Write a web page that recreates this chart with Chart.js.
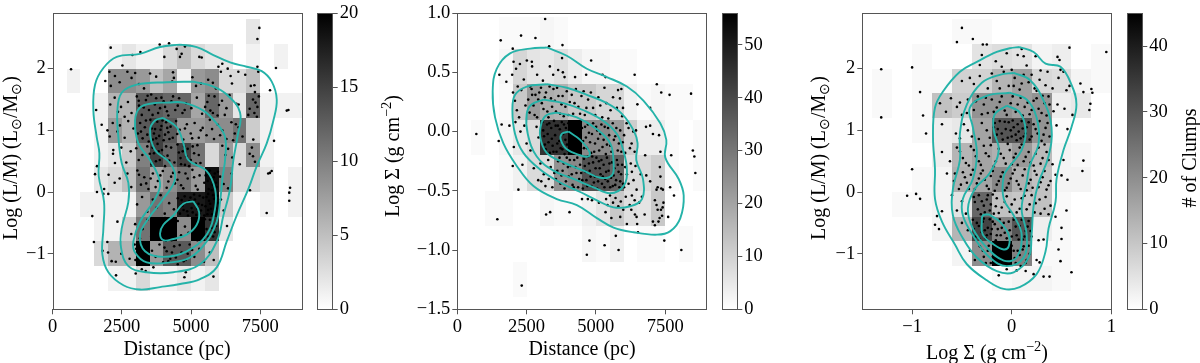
<!DOCTYPE html>
<html>
<head>
<meta charset="utf-8">
<title>Clump histograms</title>
<script src="https://cdn.jsdelivr.net/npm/chart.js@4/dist/chart.umd.min.js"></script>
<style>
html, body { margin: 0; padding: 0; background: #fff; }
#page { position: relative; width: 1200px; height: 363px; overflow: hidden; }
canvas { position: absolute; top: 0; }
</style>
</head>
<body>
<div id="page">
<canvas id="hist1" style="left:0px" width="310" height="363"></canvas>
<canvas id="bar1" style="left:310px" width="60" height="363"></canvas>
<canvas id="hist2" style="left:375px" width="340" height="363"></canvas>
<canvas id="bar2" style="left:715px" width="70" height="363"></canvas>
<canvas id="hist3" style="left:795px" width="325" height="363"></canvas>
<canvas id="bar3" style="left:1120px" width="80" height="363"></canvas>
</div>
<script>
// Bin edges and tick labels
const distEdges = [0, 500, 1000, 1500, 2000, 2500, 3000, 3500, 4000, 4500, 5000, 5500, 6000, 6500, 7000, 7500, 8000, 8500, 9000];
const lmEdges = [2.8, 2.4, 2.0, 1.6, 1.2, 0.8, 0.4, 0, -0.4, -0.8, -1.2, -1.6];
const sigmaRowEdges = [0.97, 0.7, 0.4, 0.1, -0.2, -0.5, -0.8, -1.1, -1.4];
const sigmaColEdges = [-1.4, -1.2, -1.0, -0.8, -0.6, -0.4, -0.2, 0, 0.2, 0.4, 0.6, 0.8, 1.0];
const distTicks = [0, 2500, 5000, 7500];
const lmTicks = [-1, 0, 1, 2];
const sigmaTicks = [-1.5, -1.0, -0.5, 0.0, 0.5, 1.0];
const sigmaLogTicks = [-1, 0, 1];
const barTicks1 = [0, 5, 10, 15, 20];
const barTicks2 = [0, 10, 20, 30, 40, 50];
const barTicks3 = [0, 10, 20, 30, 40];

// Counts per cell, rows from top to bottom
const counts1 = [
  [0,0,0,0,0,0,0,0,0,0,0,0,0,0,2,0,0,0],
  [0,0,0,0,1,2,1,1,3,5,3,2,2,0,1,0,1,0],
  [0,1,0,0,9,9,8,5,7,1,8,9,3,3,5,0,0,0],
  [0,0,0,1,6,6,13,13,12,12,7,12,8,2,12,1,1,1],
  [0,0,0,1,8,6,13,15,13,8,8,9,9,11,4,1,0,0],
  [0,0,0,1,2,4,10,15,12,15,11,3,8,3,9,1,0,0],
  [0,0,0,2,3,5,11,7,9,11,8,19,10,3,3,2,0,1],
  [0,0,1,1,1,1,8,11,10,18,18,19,4,1,0,1,0,1],
  [0,0,0,1,1,4,11,20,20,9,20,16,2,0,0,0,0,0],
  [0,0,0,3,6,6,20,8,13,13,9,5,0,0,0,0,0,0],
  [0,0,0,0,1,1,3,1,1,2,1,2,0,0,0,0,0,0]
];
const counts2 = [
  [0,0,0,1,1,1,2,1,0,0,0,0,0,0,0,0,0,0],
  [0,0,0,2,9,6,5,7,4,2,2,1,1,0,0,0,0,0],
  [0,0,0,1,12,22,18,17,12,12,9,9,3,1,2,1,1,0],
  [0,1,0,2,5,8,45,45,56,26,26,22,11,4,4,1,0,1],
  [0,0,0,1,3,8,8,24,26,38,38,34,8,8,11,1,0,1],
  [0,0,1,1,0,0,2,1,1,3,6,12,7,6,12,0,0,0],
  [0,0,0,0,0,0,0,0,0,2,1,3,0,1,1,0,1,0],
  [0,0,0,0,1,0,0,0,0,0,0,0,0,0,0,0,0,0]
];
const counts3 = [
  [0,0,0,0,1,1,0,0,0,0,0,0],
  [0,0,1,0,0,5,6,5,2,3,0,1],
  [1,0,1,1,8,8,13,17,7,6,2,1],
  [1,0,1,11,9,19,19,17,19,3,4,0],
  [0,0,1,3,4,16,30,30,19,1,0,0],
  [0,0,0,3,13,16,14,18,12,2,1,0],
  [0,0,1,2,14,16,21,14,11,2,2,0],
  [0,1,1,2,5,27,11,10,11,1,0,0],
  [0,0,0,2,13,33,22,30,3,1,0,0],
  [0,0,0,0,2,20,45,22,1,1,0,0],
  [0,0,0,0,0,0,1,2,2,1,0,0]
];

// Individual clumps: distance vs log L/M
const points1 = [
[663,1.99],[7470,2.66],[7400,2.48],[2096,2.34],[4205,2.41],[3867,2.39],[2880,2.22],[3170,2.27],[4036,2.19],[4600,2.19],[4660,2.24],[4780,2.36],[4480,2.32],[5300,2.19],[5385,2.18],[6130,2.08],[5990,2.03],[6325,2.0],[8070,2.01],[7400,2.03],[7855,1.65],[8460,1.32],[8520,1.33],[8580,.07],[8550,-.01],[8550,-.14],[7735,-.34],[7130,.03],[7915,.34],[7850,.31],[8000,.83],[7790,.3],[1430,-.39],[1490,-.81],[2340,-.48],[1975,-.81],[2000,-.98],[2290,-1.35],[3000,-1.32],[3220,-1.25],[3360,-1.28],[4810,-1.3],[4760,-1.38],[5810,-1.37],[3640,-1.22],[1570,1.33],[1530,.29],[1600,.42],[1600,0],[1830,-.03],[2010,-.03],[2250,.47],[2190,.68],[1770,1.09],[1980,1.0],
[1900,1.8],[2050,1.95],[2100,1.72],[2250,1.88],[2420,1.78],[2520,2.05],[2700,1.95],[2850,1.85],[2980,1.93],[3120,1.75],[3300,1.68],[3520,1.92],[3740,1.87],[4350,1.94],[4380,1.85],[4320,1.79],[5050,1.86],[5180,1.72],[5360,1.76],[5620,1.82],[5790,1.77],[5900,1.68],[6080,1.95],[6430,1.88],[6480,1.76],[6710,1.95],[6960,1.9],[7160,1.72],[7310,1.62],[7290,1.73],[7430,1.95],
[2080,1.42],[2240,1.53],[2360,1.3],[2470,1.38],[2600,1.22],[2720,1.46],[2850,1.28],[3040,1.55],[3120,1.4],[3220,1.25],[3370,1.49],[3480,1.33],[3560,1.58],[3690,1.42],[3810,1.28],[3930,1.53],[4060,1.38],[4180,1.24],[4290,1.47],[4430,1.33],[4570,1.52],[4690,1.28],[4820,1.44],[5010,1.36],[5210,1.53],[5400,1.27],[5590,1.46],[5700,1.32],[5850,1.55],[5960,1.24],[6120,1.48],[6280,1.36],[6390,1.57],[6640,1.43],[6720,1.42],[7070,1.25],[7120,1.35],[7240,1.5],[7290,1.28],[7330,1.45],[7400,1.38],[7450,1.55],[7380,1.22],
[2060,.9],[2170,1.12],[2340,.98],[2430,1.08],[2600,.88],[2730,1.15],[2920,1.03],[3080,.95],[3160,1.12],[3250,.87],[3330,1.05],[3420,.93],[3530,1.17],[3620,.85],[3700,1.02],[3780,1.14],[3850,.91],[3930,1.07],[4010,.84],[4100,1.13],[4180,.97],[4260,1.06],[4340,.88],[4460,1.15],[4590,1.01],[4720,.85],[4850,1.1],[4990,.95],[5130,1.12],[5280,.88],[5420,1.04],[5560,.92],[5680,1.17],[5830,.86],[5970,1.09],[6130,1.0],[6280,.86],[6460,1.13],[6580,.95],[6720,1.05],[6860,.9],[7250,.85],
[2180,.62],[2480,.72],[2660,.48],[2820,.66],[3020,.71],[3110,.52],[3240,.6],[3420,.74],[3580,.45],[3660,.63],[3790,.78],[3870,.52],[3950,.68],[4060,.42],[4150,.59],[4280,.72],[4400,.48],[4510,.77],[4620,.55],[4700,.66],[4780,.44],[4880,.7],[4990,.52],[5110,.63],[5230,.76],[5340,.47],[6130,.75],[6240,.6],[6340,.7],[6490,.56],[6760,.45],[7120,.62],[7240,.58],[7310,.49],[7200,.72],
[1860,.05],[2020,.28],[2240,.15],[2420,.22],[2700,.3],[2840,.08],[3060,.35],[3190,.12],[3310,.24],[3460,.05],[3620,.3],[3800,.18],[3980,.34],[4120,.07],[4280,.25],[4420,.14],[4570,.32],[4720,.06],[4880,.22],[5050,.36],[5170,.1],[5310,.27],[5480,.15],[5580,.34],[5640,.05],[5720,.22],[5790,.12],[5860,.3],[5930,.08],[6050,.25],[6180,.13],[6340,.06],[6470,.3],
[3050,-.2],[3230,-.08],[3420,-.32],[3620,-.12],[3760,-.25],[3900,-.05],[4050,-.35],[4210,-.18],[4380,-.28],[4520,-.1],[4600,-.35],[4690,-.22],[4770,-.07],[4860,-.31],[4930,-.15],[5020,-.26],[5110,-.04],[5190,-.37],[5270,-.19],[5360,-.3],[5440,-.09],[5520,-.23],[5590,-.36],[5650,-.14],[5720,-.27],[5800,-.05],[5870,-.33],[5940,-.18],[6080,-.12],[6180,-.3],
[2840,-.68],[2980,-.52],[3150,-.75],[3250,-.6],[3420,-.45],[3560,-.72],[3640,-.55],[3720,-.66],[3810,-.48],[3890,-.77],[3980,-.6],[4060,-.42],[4130,-.7],[4220,-.53],[4300,-.78],[4400,-.62],[4520,-.47],[4640,-.7],[4780,-.56],[4910,-.66],[5040,-.43],[5110,-.75],[5190,-.58],[5280,-.68],[5370,-.5],[5450,-.77],[5560,-.6],[5680,-.45],[5800,-.72],[5910,-.55],[6300,-.55],
[1800,-.95],[2130,-1.12],[2280,-1.13],[2480,-1.0],[2780,-1.08],[2960,-.85],[2990,-1.1],[3060,-1.18],[3150,-.92],[3240,-1.02],[3330,-.87],[3420,-1.12],[3590,-.95],[3720,-1.05],[3860,-.85],[3990,-1.14],[4120,-.96],[4250,-1.08],[4390,-.88],[4520,-1.17],[4660,-.98],[4810,-1.1],[4950,-.85],[5120,-1.05],[5300,-.92],[5470,-1.13],[5680,-.98],[5820,-1.1],
[3110,1.48],[3290,1.37],[3430,1.56],[3610,1.25],[3740,1.52],[3880,1.36],[4010,1.47],[4130,1.31],[4350,1.55],[4520,1.4],[4770,1.33],[5510,1.38],[5640,1.56],[5790,1.28],[6010,1.41],[6220,1.25],
[3190,.98],[3370,1.16],[3470,.82],[3580,1.03],[3660,.95],[3740,.87],[3900,1.01],[3970,1.16],[4060,.93],[4140,1.04],[4220,.86],[4500,.94],[4780,1.03],[5040,.87],[5350,1.0],[5760,1.02],[6050,.92],[6520,.84],[6620,1.1],
[3510,.62],[3610,.72],[3730,.5],[3830,.66],[4000,.57],[4100,.74],[4210,.51],[4560,.64],[4640,.45],[4750,.74],[4830,.58],[4930,.42],[5060,.74],[5170,.46],[5280,.6],
[3120,.28],[3380,.14],[3540,.22],[3720,.08],[3890,.27],[4180,.17],[4350,.31],[4510,.2],[4640,.11],[4800,.3],[5110,.24],[5240,.04],[5530,.27],[5600,.18],[5680,.35],[5750,.03],[5820,.24],[5900,.15],[5970,.33],
[4660,-.13],[4730,-.29],[4810,-.17],[4890,-.38],[4980,-.09],[5060,-.33],[5140,-.12],[5230,-.27],[5310,-.06],[5400,-.21],[5480,-.38],[5560,-.08],[5620,-.29],[5690,-.19],[5760,-.36],[5830,-.11],[5900,-.26],[5960,-.06],[5620,-.03],[5310,-.35],
[3600,-.62],[3680,-.76],[3760,-.58],[3850,-.44],[3930,-.68],[4020,-.52],[4090,-.79],[4170,-.63],[4260,-.45],[4340,-.7],[5060,-.62],[5150,-.48],[5230,-.78],[5320,-.57],[5410,-.67],[5500,-.44],[5620,-.72],[5740,-.58],[5850,-.65],
[3020,-.92],[3080,-1.04],[3130,-.84],[3190,-1.14],[3280,-1.1],[3380,-.96],[4040,-.9],[4180,-1.12],[4310,-.98],[4450,-1.06],[4590,-.86],[4730,-1.12],[4880,-1.0],[5040,-.94]
];

// Distance vs log surface density
const points2 = [
[687,-.02],[3170,.95],[1566,.77],[2300,.81],[2820,.79],[2000,.70],[3313,.72],[3796,.73],[4830,.60],[6400,.48],[7200,.40],[7360,.33],[7660,.31],[8435,.32],[8500,-.16],[8555,-.21],[8590,-.35],[7720,-.20],[7470,-.92],[8085,-1.0],[6520,-.85],[5720,-.88],[5315,-.96],[4770,-.92],[5820,-1.0],[4675,-1.04],[2325,-1.30],[1446,-.74],[2205,-.49],[3205,-.70],[3350,-.68],[4050,-.68],[1518,.48],[1600,.06],[1494,-.08],
[1770,.42],[1980,.48],[2030,.59],[2120,.53],[2260,.57],[2400,.44],[2510,.6],[2690,.59],[2700,.55],[2880,.48],[3090,.43],[3340,.55],[3460,.48],[3640,.52],[3780,.62],[3810,.5],[3870,.46],[4250,.46],[4650,.48],[5240,.48],[5350,.46],
[2010,.33],[2080,.26],[2150,.18],[2310,.35],[2460,.22],[2630,.38],[2700,.31],[2790,.14],[2920,.27],[3020,.37],[3110,.19],[3200,.33],[3290,.12],[3380,.28],[3470,.36],[3560,.17],[3650,.3],[3760,.23],[3840,.13],[3950,.34],[4060,.25],[4180,.15],[4280,.36],[4370,.21],[4480,.3],[4600,.14],[4720,.27],[4900,.2],[5090,.29],[5230,.12],[5380,.24],[5530,.18],[5800,.35],[5870,.28],[5920,.36],[5980,.2],[6500,.23],[6960,.2],
[1880,.05],[2040,-.13],[2280,.0],[2420,.05],[2500,-.1],[2640,-.16],[2860,.04],[2930,-.05],
[3070,.08],[3130,-.04],[3190,-.15],[3240,.06],[3290,-.09],[3340,-.18],[3390,.03],[3440,-.12],[3490,.09],[3530,-.03],[3580,-.17],[3630,.05],[3680,-.08],[3730,-.14],[3770,.08],[3820,-.02],[3870,-.19],[3920,.03],[3960,-.11],[4010,.07],[4060,-.05],[4110,-.17],[4160,.02],[4220,-.1],[4280,.06],[4340,-.15],[4400,-.03],[4460,.08],
[4540,-.08],[4610,.04],[4680,-.14],[4750,-.01],[4830,-.18],[4900,.07],[4970,-.1],[5050,.01],[5120,-.16],[5200,.06],[5280,-.07],[5360,-.19],[5440,.03],[5520,-.12],[5610,.07],[5700,-.04],[5790,-.16],[5880,.01],[5970,-.09],[6060,-.18],[6180,.03],[6290,-.1],[6400,-.17],[6450,.01],[6810,.04],[6960,.05],[7060,-.02],[7280,-.03],[7330,-.17],[6780,-.2],
[2000,-.29],[2350,-.28],[2760,-.31],[2920,-.41],[3000,-.27],[3120,-.36],[3280,-.24],[3370,-.3],
[3560,-.4],[3640,-.25],[3720,-.44],[3800,-.33],[3870,-.48],[3950,-.22],[4020,-.38],[4090,-.29],[4160,-.45],[4220,-.24],[4300,-.35],[4360,-.47],[4430,-.28],[4510,-.41],[4570,-.23],[4630,-.34],[4690,-.46],[4750,-.27],[4810,-.38],[4870,-.21],[4930,-.43],[4990,-.31],[5050,-.48],[5110,-.25],[5170,-.36],[5220,-.44],[5280,-.28],[5340,-.4],[5400,-.22],[5460,-.33],[5520,-.47],[5580,-.26],[5640,-.37],[5700,-.45],[5760,-.24],[5820,-.34],[5880,-.42],[5950,-.28],[6020,-.47],[6120,-.36],[6260,-.27],[6360,-.41],[6470,-.49],[6620,-.36],[6820,-.37],[6960,-.42],[7190,-.49],[7230,-.47],[7310,-.3],[7330,-.38],[7360,-.48],[7420,-.49],[7680,-.47],[7820,-.54],
[4500,-.57],[4710,-.57],[4860,-.58],[5110,-.6],[5370,-.57],[5420,-.62],[5510,-.54],[5620,-.6],[5710,-.56],[5810,-.63],[5900,-.59],[5990,-.66],[6080,-.55],[6220,-.62],[6300,-.54],[6400,-.58],[6470,-.72],[6560,-.6],[6660,-.55],[6760,-.7],[7130,-.58],[7190,-.62],[7230,-.66],[7300,-.73],[7350,-.66],[7440,-.6],[7390,-.71],[7410,-.64],[7060,-.76],[7130,-.79],[7260,-.76],[7610,-.72],[5350,-.68],[5560,-.73],[5880,-.72],[6120,-.78],[6280,-.66],[6410,-.7],[6490,-.78],
[2560,.27],[2610,.16],[2680,.36],[2750,.22],[2820,.31],[2880,.12],[2960,.33],[3050,.24],[3160,.29],[3250,.17],[3330,.38],[3420,.21],[3520,.26],[3600,.37],[3710,.15],[3800,.3],[3900,.21],[4010,.14],[4130,.31],[4230,.24],[4430,.15],[4560,.34],[4660,.2],[4820,.33],[4980,.14],[5160,.22],[5310,.37],[5450,.11],[5620,.29],[5760,.2],[5950,.13],[2180,.38],[2230,.12],[2100,.08],
[3100,.01],[3160,-.11],[3260,-.02],[3320,.07],[3410,-.06],[3470,-.17],[3550,.05],[3610,-.1],[3700,.02],[3790,-.15],[3850,.06],[3900,-.07],[3990,-.16],[4040,.02],[4130,-.08],[4190,.07],[4250,-.16],[4310,.0],[4370,-.1],[4440,-.18],
[4500,.03],[4570,-.14],[4640,-.05],[4710,.06],[4790,-.09],[4860,-.02],[4940,-.17],[5010,.04],[5080,-.06],[5160,-.02],[5240,-.13],[5320,.04],[5400,-.11],[5480,-.03],[5560,-.17],[5650,-.07],[5740,.03],[5830,-.1],[5920,-.17],[6020,-.03],[6110,.07],[6230,-.14],[6350,.0],
[3610,-.33],[3690,-.22],[3760,-.37],[3840,-.27],[3920,-.42],[3990,-.3],[4060,-.24],[4130,-.36],[4200,-.47],[4260,-.3],[4330,-.22],[4400,-.4],[4470,-.35],[4530,-.48],[4600,-.29],[4660,-.41],[4720,-.21],[4780,-.33],[4840,-.46],[4900,-.26],[4960,-.38],[5020,-.22],[5080,-.42],[5140,-.31],[5200,-.24],[5250,-.38],[5310,-.47],[5370,-.34],[5430,-.42],[5490,-.27],[5550,-.39],[5610,-.46],[5670,-.31],[5730,-.41],[5790,-.28],[5850,-.47],[5910,-.36],[5980,-.44],[6060,-.3],[6180,-.44],[6300,-.34],[6430,-.29],
[3030,-.42],[3180,-.46],[3300,-.4],[3430,-.47],[3500,-.35]
];

// Log surface density vs log L/M
const points3 = [
[-1.31,1.99],[-1.31,1.21],[-1.0,2.02],[-.92,1.62],[-.89,1.24],[-.86,.95],[-1.0,.37],[-1.05,-.06],[-.96,-.03],[-.92,-.11],[-.50,2.66],[-.55,2.43],[-.39,2.48],[-.29,2.39],[-.25,2.39],[.95,2.27],[.58,2.34],[.46,2.19],[.48,2.14],[.69,1.76],[.80,1.67],[.81,1.61],[.72,1.62],[.79,1.43],[.78,1.33],[.72,.51],[.71,.34],[.60,-1.30],[.49,-1.12],[.47,-.93],[.50,-.58],[.50,-.76],[.55,-.30],[.44,-.40],[.38,-1.37],[.32,-1.37],[.22,-1.33],[-.13,-1.35],[-.77,-.53],[-.73,-.60],[-.75,-.39],[-.70,-.31],
[-.3,2.22],[-.16,2.12],[-.05,2.25],[.06,2.22],[.12,2.2],[.1,2.32],[.24,2.2],[-.32,2.06],[-.1,2.03],[0,1.98],[.15,2.05],[.29,1.97],[.36,1.95],[.49,1.98],[.52,1.95],[.58,1.72],
[-.5,1.8],[-.42,1.85],[-.38,1.75],[-.32,1.88],[-.24,1.68],[-.2,1.92],[-.15,1.8],[-.08,1.95],[-.03,1.72],[.03,1.85],[.08,1.66],[.12,1.9],[.17,1.78],[.23,1.68],[.28,1.82],[.34,1.73],[.41,1.68],[.47,1.85],[.55,1.65],
[-.72,1.44],[-.66,1.3],[-.61,1.52],[-.55,1.38],[-.5,1.25],[-.44,1.5],[-.38,1.33],[-.34,1.55],[-.28,1.42],[-.24,1.28],[-.2,1.5],[-.15,1.37],[-.1,1.55],[-.05,1.25],[-.01,1.44],[.04,1.3],[.09,1.53],[.13,1.38],[.18,1.26],[.22,1.48],[.27,1.35],[.31,1.56],[.35,1.24],[.38,1.42],[.42,1.31],[.46,1.42],[.53,1.35],[.61,1.25],
[-.7,1.1],[-.56,.95],[-.48,1.1],[-.4,.9],[-.3,1.12],[-.22,.88],[-.18,1.05],[-.15,.93],[-.12,1.15],[-.09,.85],[-.06,1.02],[-.03,1.13],[0,.9],[.02,1.05],[.05,.84],[.07,.98],[.1,1.15],[.12,.9],[.15,1.05],[.18,.85],[.22,1.1],[.26,.95],[.3,.83],[.34,1.04],[.38,.9],[.45,1.08],[.56,1.02],
[-.7,.65],[-.62,.5],[-.55,.72],[-.49,.55],[-.43,.43],[-.38,.68],[-.33,.5],[-.28,.75],[-.23,.58],[-.18,.42],[-.13,.7],[-.08,.55],[-.04,.78],[0,.45],[.04,.62],[.08,.72],[.12,.5],[.17,.65],[.22,.43],[.27,.72],[.31,.55],[.35,.65],[.41,.45],[.52,.52],
[-.65,.3],[-.58,.18],[-.53,.05],[-.49,.32],[-.45,.15],[-.41,.28],[-.37,.05],[-.33,.22],[-.29,.35],[-.25,.1],[-.21,.26],[-.17,.02],[-.13,.18],[-.09,.32],[-.05,.07],[-.01,.22],[.03,.36],[.07,.12],[.11,.27],[.15,.03],[.19,.2],[.23,.34],[.27,.08],[.31,.24],[.35,.04],[.39,.18],[.44,.28],[.5,.27],[.56,.2],
[-.6,-.05],[-.55,-.3],[-.5,-.15],[-.46,-.35],[-.38,-.08],[-.34,-.28],[-.3,-.15],[-.27,-.33],[-.24,-.05],[-.21,-.2],[-.18,-.35],[-.15,-.1],[-.1,-.25],[-.05,-.07],[0,-.2],[.05,-.33],[.1,-.1],[.15,-.28],[.2,-.05],[.24,-.18],[.29,-.35],[.34,-.08],[.39,-.22],
[-.5,-.5],[-.44,-.62],[-.39,-.45],[-.36,-.72],[-.33,-.55],[-.3,-.65],[-.28,-.43],[-.26,-.75],[-.24,-.58],[-.21,-.68],[-.19,-.48],[-.16,-.78],[-.14,-.6],[-.11,-.7],[-.08,-.5],[-.05,-.75],[-.02,-.62],[.02,-.45],[.05,-.7],[.08,-.55],[.11,-.77],[.14,-.63],[.17,-.47],[.2,-.72],[.27,-.78],[.32,-.77],
[-.42,-.95],[-.37,-1.1],[-.32,-.88],[-.28,-1.05],[-.24,-.95],[-.21,-1.15],[-.17,-.85],[-.15,-1.0],[-.12,-.9],[-.1,-1.12],[-.08,-.82],[-.05,-.98],[-.03,-1.17],[0,-.87],[.03,-1.07],[.06,-.95],[.09,-1.2],[.12,-.88],[.15,-1.1],[.18,-1.0],[.25,-1.1],[.28,-1.14],[-.05,-1.25],[.05,-1.27],[.14,-1.28],
[-.36,1.47],[-.3,1.26],[-.26,1.53],[-.18,1.3],[-.12,1.46],[-.07,1.32],[.01,1.55],[.06,1.42],[.11,1.24],[.16,1.45],[.2,1.33],[.25,1.52],[.3,1.28],[.33,1.44],[.37,1.55],[-.45,1.28],[-.52,1.45],[.02,1.72],[-.12,1.68],[.1,1.76],[.2,1.9],[.25,1.64],
[-.17,1.12],[-.14,1.02],[-.1,.95],[-.07,1.14],[-.04,.88],[-.01,1.0],[.01,1.16],[.04,.93],[.06,1.1],[.09,.87],[.11,1.03],[.14,.95],[.17,1.13],[.2,.9],[.24,1.02],[.28,1.15],[.32,.93],[.36,1.12],[-.25,1.0],[-.33,.86],[-.44,1.0],[-.52,.87],
[-.52,.66],[-.46,.47],[-.41,.74],[-.36,.58],[-.31,.44],[-.26,.63],[-.21,.76],[-.16,.5],[-.11,.62],[-.06,.46],[-.02,.68],[.02,.56],[.06,.44],[.1,.77],[.14,.57],[.19,.48],[.24,.62],[.29,.46],[.33,.77],[.37,.52],
[-.57,.3],[-.51,.12],[-.47,.24],[-.43,.05],[-.39,.36],[-.35,.14],[-.31,.3],[-.27,.2],[-.23,.05],[-.19,.34],[-.15,.12],[-.11,.25],[-.07,.03],[-.03,.14],[.01,.3],[.05,.18],[.09,.05],[.13,.37],[.17,.14],[.21,.07],[.25,.28],[.29,.16],[.33,.34],[.37,.11],
[-.37,-.16],[-.33,-.05],[-.31,-.36],[-.28,-.22],[-.25,-.12],[-.22,-.3],[-.19,-.04],[-.16,-.23],[-.13,-.34],[-.07,-.16],[-.02,-.32],[.03,-.12],[.08,-.27],[.13,-.06],[.18,-.2],[.23,-.33],[.28,-.12],[.33,-.27],[.37,-.36],
[-.38,-.6],[-.35,-.5],[-.32,-.76],[-.29,-.48],[-.27,-.62],[-.25,-.7],[-.22,-.44],[-.2,-.6],[-.17,-.52],[-.15,-.7],[-.12,-.44],[-.1,-.58],[-.07,-.66],[-.03,-.48],[0,-.72],[.04,-.56],[.07,-.77],[.1,-.45],[.13,-.72],[.16,-.56],[.19,-.63],
[-.29,-.95],[-.26,-1.15],[-.23,-.87],[-.19,-1.05],[-.16,-1.17],[-.13,-.83],[-.11,-1.04],[-.09,-.94],[-.06,-1.08],[-.04,-.87],[-.01,-1.03],[.02,-.95],[.04,-1.15],[.08,-1.02],[.11,-.93],[.14,-1.15],[.17,-.87]
];

// Density contours for each panel, outer to inner
const contours1 = [
[[4603,2.39],[5206,2.35],[5808,2.22],[6411,2.10],[7013,2.03],[7555,1.96],[7917,1.79],[8098,1.50],[7977,1.16],[7736,.79],[7375,.42],[7073,.05],[6652,-.38],[6290,-.80],[5929,-1.22],[5326,-1.41],[4603,-1.49],[3880,-1.54],[3157,-1.58],[2555,-1.51],[2012,-1.30],[1795,-1.01],[1832,-.59],[1856,-.16],[1663,.26],[1687,.63],[1591,.89],[1470,1.32],[1530,1.74],[1832,2.01],[2314,2.19],[3157,2.24],[3880,2.35]],
[[5085,1.79],[5808,1.71],[6290,1.58],[6772,1.29],[6676,.89],[6531,.52],[6411,.05],[6170,-.38],[5929,-.80],[5326,-1.17],[4362,-1.30],[3398,-1.30],[2735,-1.20],[2470,-.90],[2494,-.59],[2735,-.16],[2735,.15],[2494,.47],[2374,.89],[2338,1.32],[2494,1.61],[3037,1.74],[4121,1.78]],
[[4121,1.45],[4724,1.45],[5447,1.32],[5929,1.11],[6230,.89],[6230,.52],[6146,.26],[6049,-.16],[5929,-.48],[5567,-.80],[4965,-1.06],[4242,-1.14],[3398,-1.14],[2976,-.98],[2916,-.80],[3157,-.48],[3699,-.11],[3880,.15],[3519,.52],[3097,.79],[2976,1.16],[3157,1.37],[3639,1.44]],
[[4001,1.20],[4483,1.05],[4724,.79],[4904,.52],[5567,.34],[5868,.05],[5868,-.27],[5567,-.69],[4844,-.96],[4001,-1.05],[3338,-.96],[3157,-.69],[3458,-.43],[4001,-.11],[4422,.21],[4242,.47],[3699,.68],[3519,1.00],[3699,1.16]],
[[5085,-.15],[5290,-.32],[5206,-.53],[4844,-.69],[4362,-.76],[4001,-.78],[3880,-.67],[4001,-.53],[4362,-.38],[4724,-.19]]
];
const contours2 = [
[[3229,.71],[3952,.64],[4675,.53],[5398,.46],[6121,.38],[6724,.26],[7326,.07],[7543,-.07],[7507,-.22],[7989,-.40],[8170,-.54],[8049,-.73],[7688,-.84],[7206,-.87],[6362,-.85],[5639,-.81],[5037,-.73],[4314,-.62],[3591,-.57],[2747,-.46],[2145,-.29],[1663,-.10],[1362,.12],[1277,.34],[1422,.53],[1904,.66],[2627,.70]],
[[3229,.40],[3952,.37],[4675,.31],[5398,.24],[5941,.15],[6362,.01],[6507,-.10],[6459,-.24],[6700,-.40],[6664,-.57],[6242,-.63],[5639,-.64],[5037,-.58],[4434,-.51],[3711,-.43],[2988,-.32],[2386,-.18],[2085,-.02],[1988,.18],[2085,.31],[2506,.38]],
[[3109,.27],[3832,.24],[4555,.18],[5278,.09],[5760,-.02],[5977,-.15],[6121,-.32],[6001,-.46],[5519,-.52],[4916,-.47],[4193,-.40],[3470,-.33],[2868,-.21],[2543,-.02],[2506,.15],[2687,.23]],
[[3591,.16],[4314,.12],[5037,.02],[5519,-.10],[5639,-.26],[5579,-.37],[5157,-.39],[4555,-.33],[3832,-.26],[3229,-.18],[2988,-.04],[3049,.08],[3229,.14]],
[[4013,0],[4434,-.07],[4772,-.17],[4736,-.21],[4434,-.20],[3952,-.15],[3736,-.07],[3772,-.02]]
];
const contours3 = [
[[.08,2.35],[.22,2.27],[.34,2.08],[.49,2.03],[.60,1.74],[.65,1.42],[.60,1.05],[.52,.68],[.45,.21],[.44,-.16],[.37,-.59],[.34,-.96],[.25,-1.33],[.08,-1.54],[-.08,-1.57],[-.25,-1.43],[-.45,-1.17],[-.57,-.85],[-.70,-.48],[-.77,-.11],[-.77,.37],[-.79,.89],[-.77,1.37],[-.69,1.63],[-.52,1.95],[-.35,2.11],[-.15,2.27],[-.02,2.33]],
[[.02,1.93],[.18,1.82],[.32,1.48],[.40,1.05],[.37,.58],[.27,.15],[.22,-.22],[.20,-.69],[.17,-1.06],[.02,-1.30],[-.15,-1.28],[-.35,-1.06],[-.49,-.75],[-.59,-.38],[-.59,.05],[-.52,.52],[-.52,.95],[-.45,1.42],[-.30,1.77],[-.12,1.90]],
[[-.02,1.61],[.15,1.50],[.25,1.21],[.27,.79],[.18,.42],[.15,.15],[.10,-.27],[.15,-.69],[.12,-1.06],[-.05,-1.20],[-.22,-1.06],[-.37,-.75],[-.49,-.38],[-.49,-.11],[-.39,.21],[-.35,.63],[-.39,1.05],[-.42,1.37],[-.25,1.56]],
[[-.05,1.40],[.08,1.29],[.14,1.00],[.10,.68],[-.02,.42],[-.08,.26],[-.08,-.11],[.02,-.38],[.10,-.69],[.05,-1.06],[-.08,-1.11],[-.25,-.90],[-.39,-.59],[-.44,-.27],[-.37,.05],[-.22,.31],[-.13,.68],[-.18,1.00],[-.17,1.26]],
[[-.23,-.36],[-.12,-.48],[-.03,-.69],[-.03,-.88],[-.08,-.93],[-.18,-.85],[-.29,-.69],[-.30,-.48],[-.29,-.38]]
];

const SERIF = '"Liberation Serif", serif';
const SPINE = '#555555';
const TEAL = '#25b3a9';
const TOP = 6.3;
const BOTTOM = 309.3;

// Cell shade from count, white at zero and black at the top of the colour bar
function grayFor(value, max) {
    const g = Math.round(255 * (1 - Math.min(value / max, 1)));
    return `rgb(${g},${g},${g})`;
}

function tickText(v, decimals) {
    return (decimals ? v.toFixed(decimals) : String(v)).replace('-', '\u2212');
}

// Histogram cells, placed with the chart's own scales
const cellsPlugin = {
    id: 'cells',
    beforeDatasetsDraw(chart, args, opts) {
        if (!opts.counts) return;
        const ctx = chart.ctx;
        const { x, y } = chart.scales;
        opts.counts.forEach((row, r) => {
            row.forEach((value, c) => {
                if (!value) return;
                const x0 = Math.round(x.getPixelForValue(opts.colEdges[c]));
                const x1 = Math.round(x.getPixelForValue(opts.colEdges[c + 1]));
                const y0 = Math.round(y.getPixelForValue(opts.rowEdges[r]));
                const y1 = Math.round(y.getPixelForValue(opts.rowEdges[r + 1]));
                ctx.fillStyle = grayFor(value, opts.max);
                ctx.fillRect(x0, y0, x1 - x0, y1 - y0);
            });
        });
    }
};

// Frame round the axes
const framePlugin = {
    id: 'frame',
    afterDatasetsDraw(chart) {
        const a = chart.chartArea;
        const ctx = chart.ctx;
        ctx.save();
        ctx.strokeStyle = SPINE;
        ctx.lineWidth = 1;
        ctx.strokeRect(Math.round(a.left) + 0.5, Math.round(a.top) + 0.5, Math.round(a.width), Math.round(a.height));
        ctx.restore();
    }
};

// Axis titles with sub and superscripts, which the scale title option cannot do
const richTitlePlugin = {
    id: 'richTitles',
    afterDraw(chart, args, opts) {
        const ctx = chart.ctx;
        (opts.items || []).forEach(item => {
            const size = item.size || 20;
            ctx.save();
            ctx.translate(item.x, item.y);
            ctx.rotate((item.rotate || 0) * Math.PI / 180);
            ctx.fillStyle = '#000';
            ctx.textBaseline = 'alphabetic';
            ctx.textAlign = 'left';
            const fontOf = part => `${part.sub || part.sup ? size * 0.72 : size}px ${SERIF}`;
            let total = 0;
            item.parts.forEach(part => { ctx.font = fontOf(part); total += ctx.measureText(part.t).width; });
            let pos = -total / 2;
            item.parts.forEach(part => {
                ctx.font = fontOf(part);
                const shift = part.sub ? size * 0.2 : part.sup ? -size * 0.38 : 0;
                ctx.fillText(part.t, pos, size * 0.33 + shift);
                pos += ctx.measureText(part.t).width;
            });
            ctx.restore();
        });
    }
};

function axisOptions(min, max, ticks, decimals, position, fitSize) {
    return {
        type: 'linear',
        position: position,
        min: min,
        max: max,
        afterBuildTicks: scale => { scale.ticks = ticks.map(v => ({ value: v })); },
        afterFit: scale => {
            if (position === 'bottom') scale.height = fitSize;
            else scale.width = fitSize;
        },
        border: { display: false },
        grid: { drawOnChartArea: false, color: SPINE, tickLength: 5, tickWidth: 1 },
        ticks: {
            autoSkip: false,
            maxRotation: 0,
            padding: 2,
            color: '#000',
            font: { family: SERIF, size: 18.5 },
            callback: v => tickText(v, decimals)
        }
    };
}

function makeHistogram(id, cfg) {
    const datasets = cfg.contours.map(line => ({
        data: line.concat([line[0]]).map(p => ({ x: p[0], y: p[1] })),
        showLine: true,
        tension: 0.4,
        borderColor: TEAL,
        borderWidth: 1.9,
        pointRadius: 0,
        order: 0
    }));
    datasets.push({
        data: cfg.points.map(p => ({ x: p[0], y: p[1] })),
        backgroundColor: '#000',
        borderWidth: 0,
        pointRadius: 1.3,
        order: 1
    });
    return new Chart(document.getElementById(id), {
        type: 'scatter',
        data: { datasets: datasets },
        plugins: [cellsPlugin, framePlugin, richTitlePlugin],
        options: {
            responsive: false,
            animation: false,
            layout: { padding: { top: TOP, right: cfg.right, left: 0, bottom: 0 } },
            plugins: {
                legend: { display: false },
                tooltip: { enabled: false },
                cells: { counts: cfg.counts, colEdges: cfg.colEdges, rowEdges: cfg.rowEdges, max: cfg.max },
                richTitles: { items: cfg.titles }
            },
            scales: {
                x: axisOptions(cfg.xMin, cfg.xMax, cfg.xTicks, 0, 'bottom', 363 - BOTTOM),
                y: axisOptions(cfg.yMin, cfg.yMax, cfg.yTicks, cfg.yDecimals, 'left', cfg.left)
            }
        }
    });
}

// Colour bar is one full width bar with a gradient fill
function makeColorBar(id, cfg) {
    return new Chart(document.getElementById(id), {
        type: 'bar',
        data: {
            labels: ['count'],
            datasets: [{
                data: [cfg.max],
                categoryPercentage: 1,
                barPercentage: 1,
                backgroundColor: c => {
                    const a = c.chart.chartArea;
                    if (!a) return '#888';
                    const g = c.chart.ctx.createLinearGradient(0, a.bottom, 0, a.top);
                    g.addColorStop(0, '#ffffff');
                    g.addColorStop(1, '#000000');
                    return g;
                }
            }]
        },
        plugins: [framePlugin, richTitlePlugin],
        options: {
            responsive: false,
            animation: false,
            layout: { padding: { top: TOP, left: cfg.left, right: 0, bottom: 363 - BOTTOM } },
            plugins: {
                legend: { display: false },
                tooltip: { enabled: false },
                richTitles: { items: cfg.titles || [] }
            },
            scales: {
                x: { display: false },
                y: axisOptions(0, cfg.max, cfg.ticks, 0, 'right', cfg.axisWidth)
            }
        }
    });
}

const distanceTitle = x => ({ x: x, y: 348, parts: [{ t: 'Distance (pc)' }] });
const lmParts = [{ t: 'Log (L/M) (L' }, { t: '\u2299', sub: 1 }, { t: '/M' }, { t: '\u2299', sub: 1 }, { t: ')' }];
const sigmaParts = [{ t: 'Log \u03A3 (g cm' }, { t: '\u22122', sup: 1 }, { t: ')' }];

makeHistogram('hist1', {
    contours: contours1, points: points1, counts: counts1, colEdges: distEdges, rowEdges: lmEdges, max: 20,
    xMin: 0, xMax: 9000, yMin: -1.9, yMax: 2.9, xTicks: distTicks, yTicks: lmTicks, yDecimals: 0,
    left: 52.7, right: 8.3,
    titles: [distanceTitle(177), { x: 10, y: 158, rotate: -90, parts: lmParts }]
});
makeColorBar('bar1', { max: 20, ticks: barTicks1, left: 7.3, axisWidth: 37.3 });

makeHistogram('hist2', {
    contours: contours2, points: points2, counts: counts2, colEdges: distEdges, rowEdges: sigmaRowEdges, max: 56,
    xMin: 0, xMax: 9000, yMin: -1.5, yMax: 1.0, xTicks: distTicks, yTicks: sigmaTicks, yDecimals: 1,
    left: 82.3, right: 8.3,
    titles: [distanceTitle(207), { x: 17, y: 156, rotate: -90, parts: sigmaParts }]
});
makeColorBar('bar2', { max: 56, ticks: barTicks2, left: 7, axisWidth: 47.7 });

makeHistogram('hist3', {
    contours: contours3, points: points3, counts: counts3, colEdges: sigmaColEdges, rowEdges: lmEdges, max: 45,
    xMin: -1.5, xMax: 1.0, yMin: -1.9, yMax: 2.9, xTicks: sigmaLogTicks, yTicks: lmTicks, yDecimals: 0,
    left: 67.3, right: 8.7,
    titles: [{ x: 192, y: 352, parts: sigmaParts }, { x: 23, y: 158, rotate: -90, parts: lmParts }]
});
makeColorBar('bar3', {
    max: 45, ticks: barTicks3, left: 7, axisWidth: 57.7,
    titles: [{ x: 69, y: 158, rotate: -90, parts: [{ t: '# of Clumps' }] }]
});
</script>
</body>
</html>
